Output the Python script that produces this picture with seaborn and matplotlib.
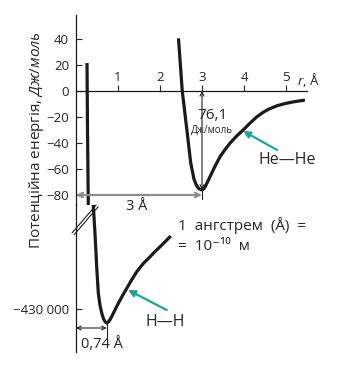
import matplotlib
matplotlib.use("Agg")
import matplotlib.pyplot as plt
import seaborn as sns

# He-He potential (upper scale, J/mol)
he_r = [2.44, 2.53, 2.64, 2.73, 2.81, 2.86, 2.91, 2.95, 3.00, 3.05, 3.10, 3.19, 3.30, 3.43, 3.55,
        3.67, 3.82, 3.98, 4.14, 4.30, 4.46, 4.62, 4.80, 5.00, 5.20, 5.45]
he_e = [40.5, 0.0, -30.0, -55.0, -68.0, -72.0, -74.6, -75.6, -76.1, -75.0, -72.0, -66.0, -58.5,
        -50.5, -45.0, -40.0, -34.8, -30.0, -24.8, -20.0, -16.3, -13.5, -11.2, -9.5, -8.2, -7.0]

# H-H repulsive wall as seen in the upper scale
hh_top_r = [0.262, 0.274, 0.295]
hh_top_e = [21.5, -30.0, -95.0]

# H-H potential (lower scale, J/mol)
hh_r = [0.405, 0.452, 0.493, 0.531, 0.57, 0.612, 0.65, 0.69, 0.73, 0.77, 0.81, 0.85, 0.92,
        1.007, 1.10, 1.207, 1.32, 1.445, 1.60, 1.762, 1.88, 2.0, 2.13, 2.255]
hh_e = [-376000, -392000, -409000, -422000, -428000, -432000, -434600, -436300, -437000,
        -436500, -435300, -433800, -430800, -427200, -423600, -419700, -415600, -411400,
        -407300, -403900, -401300, -398900, -396200, -393500]

upper_ticks = [40, 20, 0, -20, -40, -60, -80]
x_ticks = [1, 2, 3, 4, 5]
lower_ticks = [-430000]
lower_labels = ["\u2212430 000"]

he_min_r, he_min_e = 3.0, -76.1
hh_min_r, hh_min_e = 0.73, -437000

sns.set_style("white")
plt.rcParams['font.family'] = ['Open Sans', 'DejaVu Sans']
plt.rcParams['mathtext.fontset'] = 'custom'
plt.rcParams['mathtext.rm'] = 'Open Sans'
plt.rcParams['mathtext.it'] = 'Open Sans:italic'

W, H = 363, 392
fig = plt.figure(figsize=(W / 100, H / 100), dpi=100)
ax = fig.add_axes([76 / W, 1 - 205 / H, 231 / W, 190 / H])
ax2 = fig.add_axes([76 / W, 1 - 352 / H, 231 / W, 147 / H])
ax.patch.set_alpha(0)
ax2.patch.set_alpha(0)

curve = dict(color='#1a1a1a', lw=2.3, solid_capstyle='butt', solid_joinstyle='round')
sns.lineplot(x=he_r, y=he_e, sort=False, ax=ax, **curve)
sns.lineplot(x=hh_top_r, y=hh_top_e, sort=False, ax=ax, **curve)
sns.lineplot(x=hh_r, y=hh_e, sort=False, ax=ax2, **curve)

# upper axes: x axis at E = 0, labels above
ax.set_xlim(0, 5.5)
ax.set_ylim(-(205 - 91) / 1.3, (91 - 15) / 1.3)
ax.spines['top'].set_position(('data', 0))
ax.spines['right'].set_visible(False)
ax.spines['bottom'].set_visible(False)
for s in ['top', 'left']:
    ax.spines[s].set_linewidth(0.9)
    ax.spines[s].set_color('#1a1a1a')
ax.xaxis.set_ticks_position('top')
ax.set_xticks(x_ticks)
ax.set_xticklabels([str(t) for t in x_ticks])
ax.tick_params(axis='x', direction='out', length=4, width=0.8, pad=1, labelsize=9.5,
               top=True, bottom=False, labeltop=True, labelbottom=False)
ax.set_yticks(upper_ticks)
ax.tick_params(axis='y', direction='in', length=4, width=0.8, pad=5, labelsize=9.5, left=True)
ax.set_xlabel("")
ax.set_ylabel("")
ax.text(5.52, 8.5, "$r$, Å", fontsize=9.5, ha='center', va='center')

# lower axes
ax2.set_xlim(0, 5.5)
ax2.set_ylim(-430000 - (352 - 309) * 500, -430000 + (309 - 205) * 500)
for s in ['top', 'right', 'bottom']:
    ax2.spines[s].set_visible(False)
ax2.spines['left'].set_linewidth(0.9)
ax2.spines['left'].set_color('#1a1a1a')
ax2.set_xticks([])
ax2.set_yticks(lower_ticks)
ax2.set_yticklabels(lower_labels)
ax2.tick_params(axis='y', direction='in', length=4, width=0.8, pad=5, labelsize=9.5, left=True)

# axis break marks
for dx, dy in [(0.0, 0.0), (0.009, -0.012)]:
    ax2.plot([-0.017 + dx, 0.087 + dx], [0.81 + dy, 1.0 + dy],
             transform=ax2.transAxes, color='#1a1a1a', lw=0.8, clip_on=False)

thin = dict(arrowstyle='<->', color='#222222', lw=0.8, shrinkA=0, shrinkB=0, mutation_scale=7)

# 3 A distance (grey)
ax.annotate("", xy=(0, -80), xytext=(he_min_r, -80),
            arrowprops=dict(arrowstyle='<->', color='#8c8c8c', lw=1.6, shrinkA=0, shrinkB=0,
                            mutation_scale=8))
ax.text(1.45, -88.5, "3 Å", fontsize=10.5, ha='center', va='center')

# depth of He-He well
ax.annotate("", xy=(he_min_r, 0), xytext=(he_min_r, he_min_e), arrowprops=thin)
ax.plot([he_min_r, he_min_r], [he_min_e, -83], color='#222222', lw=0.8)
ax.text(3.24, -18.5, "76,1", fontsize=11, ha='center', va='center')
ax.text(3.24, -30, "Дж/моль", fontsize=7, ha='center', va='center')

# He-He label
teal = '#1ea3a3'
ax.annotate("", xy=(3.98, -30.8), xytext=(4.79, -45.4),
            arrowprops=dict(arrowstyle='-|>', color=teal, lw=1.6, shrinkA=0, shrinkB=0,
                            mutation_scale=10))
ax.text(5.04, -53, "He\u2014He", fontsize=11.5, ha='center', va='center')

# H-H label
ax2.annotate("", xy=(1.24, -420500), xytext=(2.16, -430500),
             arrowprops=dict(arrowstyle='-|>', color=teal, lw=1.6, shrinkA=0, shrinkB=0,
                             mutation_scale=10))
ax2.text(2.12, -436500, "H\u2014H", fontsize=11.5, ha='center', va='center')

# bond length of H2
ax2.annotate("", xy=(0, -439500), xytext=(hh_min_r, -439500), arrowprops=thin)
ax2.plot([hh_min_r, hh_min_r], [hh_min_e, -444000], color='#222222', lw=0.8)
ax2.text(0.61, -448000, "0,74 Å", fontsize=10.5, ha='center', va='center')

# angstrom note
fig.text(178 / W, 1 - 226 / H, "1  ангстрем  (Å)  =", fontsize=11, ha='left', va='center')
fig.text(178 / W, 1 - 247 / H, "=  10\u207b\u00b9\u2070  м", fontsize=11, ha='left', va='center')

fig.text(37 / W, 1 - 140 / H, "Потенційна енергія, $\\it{Дж/моль}$", fontsize=11,
         rotation=90, ha='center', va='center')

fig.savefig("out.png", dpi=100, facecolor='white')
